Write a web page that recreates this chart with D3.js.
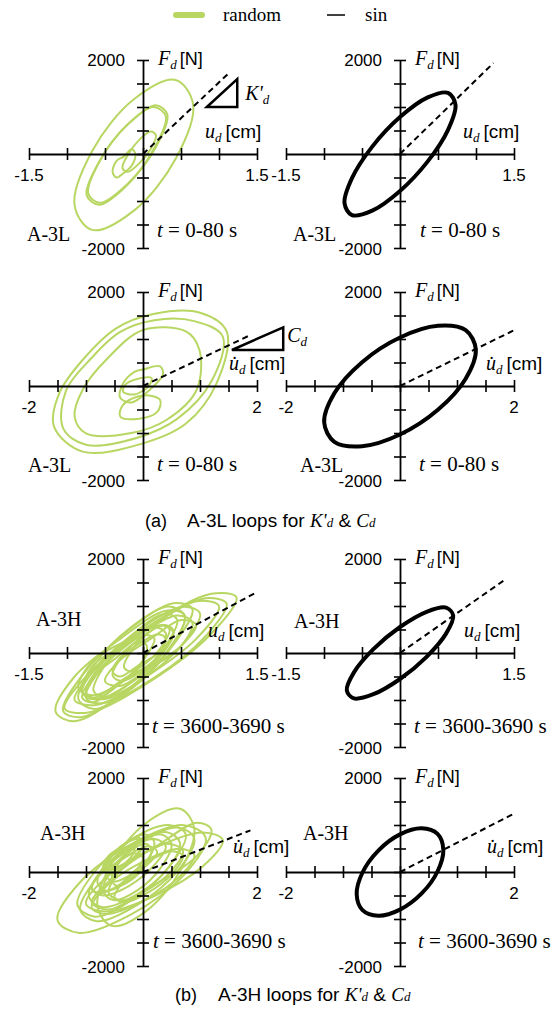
<!DOCTYPE html>
<html lang="en">
<head>
<meta charset="UTF-8">
<title>A-3L / A-3H loops</title>
<script src="https://cdn.jsdelivr.net/npm/d3@7"></script>
<style>
  body { margin: 0; background: #fff; }
</style>
</head>
<body>
<div id="chart"></div>
<script>
// ---- values ----
var legendNames = ["random", "sin"]
var dispTicks = [-1.5, -1, -0.5, 0, 0.5, 1, 1.5]
var velTicks = [-2, -1.5, -1, -0.5, 0, 0.5, 1, 1.5, 2]
var forceTicks = [-2000, -1500, -1000, -500, 0, 500, 1000, 1500, 2000]
var caseNames = ["A-3L", "A-3L", "A-3H", "A-3H"]
var timeWindows = ["0-80", "0-80", "3600-3690", "3600-3690"]

// sinusoidal loops [u, F]
var sinLK = [[0,786],[0.365,1205],[0.632,1300],[0.73,1048],[0.632,515],[0.365,-157],[0,-786],[-0.365,-1205],[-0.632,-1300],[-0.73,-1048],[-0.632,-515],[-0.365,157]]
var sinLC = [[0,1032],[0.665,1281],[1.152,1187],[1.33,774],[1.152,155],[0.665,-507],[0,-1032],[-0.665,-1281],[-1.152,-1187],[-1.33,-774],[-1.152,-155],[-0.665,507]]
var sinHK = [[0,553],[0.35,877],[0.606,965],[0.7,795],[0.606,412],[0.35,-81],[0,-553],[-0.35,-877],[-0.606,-965],[-0.7,-795],[-0.606,-412],[-0.35,81]]
var sinHC = [[0,800],[0.38,930],[0.658,811],[0.76,474],[0.658,11],[0.38,-456],[0,-800],[-0.38,-930],[-0.658,-811],[-0.76,-474],[-0.658,-11],[-0.38,456]]

// random-excitation loops, one array of [u, F] per visible loop
var randLK = [
  [[-0.12,1164],[0.43,1575],[0.66,1052],[0.43,-99],[-0.12,-1204],[-0.67,-1615],[-0.9,-1092],[-0.67,59]],
  [[-0.2,630],[0.17,1039],[0.32,840],[0.17,148],[-0.2,-630],[-0.57,-1039],[-0.72,-840],[-0.57,-148]],
  [[-0.22,600],[0.14,1000],[0.3,800],[0.14,100],[-0.22,-680],[-0.58,-1080],[-0.74,-880],[-0.58,-180]],
  [[-0.05,300],[0.1,480],[0.17,400],[0.1,100],[-0.05,-200],[-0.2,-380],[-0.27,-300],[-0.2,-20]],
  [[-0.25,-50],[-0.15,100],[-0.1,0],[-0.15,-250],[-0.25,-400],[-0.35,-500],[-0.4,-380],[-0.35,-150]]
]
var randLC = [
  [[1.0,1560],[1.47,1156],[1.29,57],[0.76,-794],[0,-1220],[-1.06,-1397],[-1.56,-865],[-1.47,-156],[-1.06,553],[-0.47,1227],[0.18,1532]],
  [[0.2,1400],[0.9,1380],[1.4,1050],[1.2,100],[0.6,-700],[-0.1,-1100],[-1.0,-1250],[-1.4,-900],[-1.35,-100],[-0.9,600],[-0.4,1150]],
  [[0,1191],[0.76,1156],[0.99,766],[0.94,-85],[0.41,-723],[-0.18,-993],[-1.0,-1007],[-1.2,-652],[-1.06,-85],[-0.65,553]],
  [[0,350],[0.3,420],[0.35,250],[0.1,-100],[-0.2,-350],[-0.4,-250],[-0.35,50],[-0.15,300]],
  [[-0.1,150],[0.15,170],[0.1,0],[-0.15,-180],[-0.35,-120],[-0.3,40]],
  [[0,-200],[0.3,-300],[0.25,-550],[-0.1,-700],[-0.4,-650],[-0.35,-400]]
]
var randHK = [
  [[0.1,599],[0.9,1260],[1.23,1184],[0.9,414],[0.1,-599],[-0.7,-1260],[-1.03,-1184],[-0.7,-414]],
  [[-0.2,475],[0.4,1061],[0.65,937],[0.4,177],[-0.2,-775],[-0.8,-1361],[-1.05,-1237],[-0.8,-477]],
  [[0.15,625],[0.82,1164],[1.1,1050],[0.82,351],[0.15,-525],[-0.52,-1064],[-0.8,-950],[-0.52,-251]],
  [[0,550],[0.53,983],[0.75,840],[0.53,205],[0,-550],[-0.53,-983],[-0.75,-840],[-0.53,-205]],
  [[-0.15,560],[0.34,989],[0.55,780],[0.34,56],[-0.15,-760],[-0.64,-1189],[-0.85,-980],[-0.64,-256]],
  [[-0.1,445],[0.29,835],[0.45,706],[0.29,134],[-0.1,-545],[-0.49,-935],[-0.65,-806],[-0.49,-234]],
  [[-0.2,280],[0.22,592],[0.4,440],[0.22,-87],[-0.2,-680],[-0.62,-992],[-0.8,-840],[-0.62,-313]],
  [[0,360],[0.28,594],[0.4,480],[0.28,85],[0,-360],[-0.28,-594],[-0.4,-480],[-0.28,-85]],
  [[-0.3,50],[0.02,378],[0.15,309],[0.02,-117],[-0.3,-650],[-0.62,-978],[-0.75,-909],[-0.62,-483]],
  [[0.05,400],[0.26,595],[0.35,500],[0.26,171],[0.05,-200],[-0.16,-395],[-0.25,-300],[-0.16,29]],
  [[0.05,500],[0.7,1100],[1.0,1000],[0.7,300],[0.05,-500],[-0.6,-1100],[-0.9,-1000],[-0.6,-300]],
  [[-0.1,350],[0.45,800],[0.65,650],[0.45,50],[-0.1,-450],[-0.65,-900],[-0.85,-750],[-0.65,-150]],
  [[-0.25,150],[0.15,550],[0.3,420],[0.15,-150],[-0.25,-550],[-0.65,-950],[-0.8,-820],[-0.65,-250]],
  [[0.1,300],[0.5,700],[0.7,600],[0.5,150],[0.1,-300],[-0.3,-700],[-0.5,-600],[-0.3,-150]],
  [[-0.35,-100],[-0.05,250],[0.05,150],[-0.05,-300],[-0.35,-700],[-0.65,-1050],[-0.75,-950],[-0.65,-500]],
  [[-0.05,200],[0.2,400],[0.3,300],[0.2,0],[-0.05,-250],[-0.3,-500],[-0.4,-400],[-0.3,-100]],
  [[-0.3,300],[0.3,900],[0.55,800],[0.3,0],[-0.3,-900],[-0.9,-1450],[-1.15,-1250],[-0.9,-500]]
]
var randHC = [
  [[-0.2,598],[0.72,996],[1.1,724],[0.72,-61],[-0.2,-898],[-1.12,-1296],[-1.5,-1024],[-1.12,-239]],
  [[0.05,1038],[0.65,1346],[0.9,925],[0.65,20],[0.05,-838],[-0.55,-1146],[-0.8,-725],[-0.55,180]],
  [[0.2,510],[1.05,841],[1.4,680],[1.05,120],[0.2,-510],[-0.65,-841],[-1.0,-680],[-0.65,-120]],
  [[-0.1,600],[0.61,947],[0.9,710],[0.61,28],[-0.1,-700],[-0.81,-1047],[-1.1,-810],[-0.81,-128]],
  [[-0.15,610],[0.42,847],[0.65,618],[0.42,56],[-0.15,-510],[-0.72,-747],[-0.95,-518],[-0.72,44]],
  [[-0.1,590],[0.32,798],[0.5,597],[0.32,105],[-0.1,-390],[-0.52,-598],[-0.7,-397],[-0.52,95]],
  [[-0.3,620],[0.05,798],[0.2,626],[0.05,204],[-0.3,-220],[-0.65,-398],[-0.8,-226],[-0.65,196]],
  [[0,220],[0.64,493],[0.9,360],[0.64,-101],[0,-620],[-0.64,-893],[-0.9,-760],[-0.64,-299]],
  [[-0.2,465],[0.05,599],[0.15,470],[0.05,153],[-0.2,-165],[-0.45,-299],[-0.55,-170],[-0.45,147]],
  [[0.1,230],[0.52,444],[0.7,340],[0.52,-22],[0.1,-430],[-0.32,-644],[-0.5,-540],[-0.32,-178]],
  [[-0.3,610],[-0.09,699],[0,613],[-0.09,402],[-0.3,190],[-0.51,101],[-0.6,187],[-0.51,398]],
  [[-0.4,475],[-0.22,549],[-0.15,478],[-0.22,302],[-0.4,125],[-0.58,51],[-0.65,122],[-0.58,298]],
  [[-0.2,700],[0.45,1000],[0.75,800],[0.45,100],[-0.2,-600],[-0.85,-950],[-1.15,-700],[-0.85,0]],
  [[-0.25,500],[0.2,700],[0.4,550],[0.2,150],[-0.25,-300],[-0.7,-500],[-0.9,-350],[-0.7,50]],
  [[-0.1,300],[0.4,600],[0.7,450],[0.4,-100],[-0.1,-500],[-0.6,-800],[-0.9,-650],[-0.6,-200]],
  [[-0.35,550],[-0.1,750],[0,600],[-0.1,350],[-0.35,100],[-0.6,-50],[-0.7,100],[-0.6,350]],
  [[-0.2,400],[0.1,550],[0.25,430],[0.1,180],[-0.2,-50],[-0.5,-200],[-0.65,-80],[-0.5,170]],
  [[0.3,600],[0.95,1050],[1.2,900],[0.95,350],[0.3,-200],[-0.35,-600],[-0.6,-450],[-0.35,100]],
  [[-0.45,200],[-0.15,400],[0,300],[-0.15,0],[-0.45,-300],[-0.75,-450],[-0.9,-350],[-0.75,-50]]
]

// far end of the dashed K'd / Cd lines, from the origin [u, F]
var slopeEnds = [[1.145,1745],[1.23,1936],[1.885,1085],[2.01,1191],[1.47,1270],[1.37,1547],[1.885,887],[2.03,1260]]
var kTriangle = [[0.84,1000],[1.24,1596],[1.24,1000]]
var cTriangle = [[1.56,766],[2.46,1249],[2.46,766]]

// ---- layout ----
var width = 557, height = 1018
var colX = [[29, 257], [286, 514]]
var rowZero = [154, 386, 653, 872]
var half = 94
var green = "#b8d662"
var SANS = 'Liberation Sans, Arial, Helvetica, sans-serif'
var SERIF = 'Liberation Serif, Times New Roman, Times, serif'

var svg = d3.select('#chart').append('svg')
    .attr('width', width).attr('height', height)

var panels = [
  {row:0, col:0, ticks:dispTicks, loops:randLK, color:green, w:2, vel:false, caseDx:-2, caseDy:87, tDx:14, tDy:83, uDx:62, uDy:-16},
  {row:0, col:1, ticks:dispTicks, loops:[sinLK], color:"#000", w:4, vel:false, caseDx:7, caseDy:87, tDx:20, tDy:83, uDx:63, uDy:-16},
  {row:1, col:0, ticks:velTicks, loops:randLC, color:green, w:2, vel:true, caseDx:-1, caseDy:86, tDx:14, tDy:85, uDx:86, uDy:-16},
  {row:1, col:1, ticks:velTicks, loops:[sinLC], color:"#000", w:4, vel:true, caseDx:14, caseDy:86, tDx:19, tDy:85, uDx:86, uDy:-16},
  {row:2, col:0, ticks:dispTicks, loops:randHK, color:green, w:2, vel:false, caseDx:7, caseDy:-27, tDx:9, tDy:80, uDx:65, uDy:-16},
  {row:2, col:1, ticks:dispTicks, loops:[sinHK], color:"#000", w:4, vel:false, caseDx:8, caseDy:-25, tDx:14, tDy:80, uDx:64, uDy:-16},
  {row:3, col:0, ticks:velTicks, loops:randHC, color:green, w:2, vel:true, caseDx:11, caseDy:-32, tDx:10, tDy:76, uDx:90, uDy:-19},
  {row:3, col:1, ticks:velTicks, loops:[sinHC], color:"#000", w:4, vel:true, caseDx:17, caseDy:-32, tDx:18, tDy:76, uDx:87, uDy:-19}
]

panels.forEach(function(p, i) {
  var yZero = rowZero[p.row]
  var xMax = p.ticks[p.ticks.length - 1]
  var x = d3.scaleLinear().domain([-xMax, xMax]).range(colX[p.col])
  var y = d3.scaleLinear().domain([-2000, 2000]).range([yZero + half, yZero - half])
  var ox = x(0), top = yZero - half, bottom = yZero + half
  var g = svg.append('g')

  // loops
  var loopLine = d3.line().x(d => x(d[0])).y(d => y(d[1])).curve(d3.curveCatmullRomClosed)
  g.append('g').selectAll('path')
      .data(p.loops)
      .join('path')
      .attr('d', loopLine)
      .attr('fill', 'none')
      .attr('stroke', p.color)
      .attr('stroke-width', p.w)
      .attr('stroke-linejoin', 'round')

  // axes crossing at origin
  var xAxis = d3.axisBottom(x).tickValues(p.ticks).tickSize(12).tickSizeOuter(0).tickFormat('')
  g.append('g').attr('transform', 'translate(0,' + yZero + ')').call(xAxis)
    .call(a => {
      a.selectAll('.tick line').attr('y1', -6).attr('y2', 6).attr('stroke-width', 1.6)
      a.select('.domain').attr('stroke-width', 1.8)
    })
  var yAxis = d3.axisLeft(y).tickValues(forceTicks).tickSize(12).tickSizeOuter(0).tickFormat('')
  g.append('g').attr('transform', 'translate(' + ox + ',0)').call(yAxis)
    .call(a => {
      a.selectAll('.tick line').attr('x1', -6).attr('x2', 6).attr('stroke-width', 1.6)
      a.select('.domain').attr('stroke-width', 1.8)
    })

  // dashed secant line
  g.append('path')
    .attr('d', d3.line().x(d => x(d[0])).y(d => y(d[1]))([[0, 0], slopeEnds[i]]))
    .attr('stroke', '#000').attr('stroke-width', 2).attr('stroke-dasharray', '6,4').attr('fill', 'none')

  // tick labels
  function sansText(tx, ty, anchor, s) {
    g.append('text').attr('font-family', SANS).attr('font-size', 17)
      .attr('x', tx).attr('y', ty).attr('text-anchor', anchor).text(s)
  }
  sansText(x(p.ticks[0]), yZero + 27, 'middle', p.ticks[0])
  sansText(x(xMax), yZero + 27, 'middle', xMax)
  sansText(ox - 18, top + 6, 'end', forceTicks[forceTicks.length - 1])
  sansText(ox - 18, bottom + 7, 'end', forceTicks[0])

  // axis titles
  var ft = g.append('text').attr('x', ox + 15).attr('y', top + 5)
  ft.append('tspan').attr('font-family', SERIF).attr('font-style', 'italic').attr('font-size', 20).text('F')
  ft.append('tspan').attr('font-family', SERIF).attr('font-style', 'italic').attr('font-size', 13).attr('dy', 4).text('d')
  ft.append('tspan').attr('font-family', SANS).attr('font-size', 18).attr('dx', 3).attr('dy', -4).text('[N]')

  var ut = g.append('text').attr('x', ox + p.uDx).attr('y', yZero + p.uDy)
  ut.append('tspan').attr('font-family', SERIF).attr('font-style', 'italic').attr('font-size', 20).text(p.vel ? 'u\u0307' : 'u')
  ut.append('tspan').attr('font-family', SERIF).attr('font-style', 'italic').attr('font-size', 13).attr('dy', 4).text('d')
  ut.append('tspan').attr('font-family', SANS).attr('font-size', 19).attr('dx', 4).attr('dy', -4).text('[cm]')

  // case and time window
  g.append('text').attr('font-family', SERIF).attr('font-size', 20)
    .attr('x', colX[p.col][0] + p.caseDx).attr('y', yZero + p.caseDy)
    .text(caseNames[p.row])
  var tt = g.append('text').attr('font-family', SERIF).attr('font-size', 21)
    .attr('x', ox + p.tDx).attr('y', yZero + p.tDy)
  tt.append('tspan').attr('font-style', 'italic').text('t')
  tt.append('tspan').text(' = ' + timeWindows[p.row] + ' s')

  // slope triangles on first two random panels
  if (i === 0 || i === 2) {
    var tri = i === 0 ? kTriangle : cTriangle
    g.append('path')
      .attr('d', d3.line().x(d => x(d[0])).y(d => y(d[1]))(tri) + 'Z')
      .attr('fill', 'none').attr('stroke', '#000').attr('stroke-width', 2.5)
    var lt = g.append('text').attr('font-family', SERIF).attr('font-style', 'italic')
      .attr('x', x(tri[1][0]) + (i === 0 ? 8 : 4)).attr('y', y(tri[1][1]) + (i === 0 ? 21 : 15))
    lt.append('tspan').attr('font-size', 20).text(i === 0 ? "K'" : 'C')
    lt.append('tspan').attr('font-size', 13).attr('dy', 4).text('d')
  }
})

// legend
var legend = svg.append('g')
legend.append('line').attr('x1', 176).attr('x2', 202).attr('y1', 15).attr('y2', 15)
  .attr('stroke', green).attr('stroke-width', 6).attr('stroke-linecap', 'round')
legend.append('text').attr('font-family', SERIF).attr('font-size', 19).attr('x', 223).attr('y', 21).text(legendNames[0])
legend.append('line').attr('x1', 327).attr('x2', 345).attr('y1', 15).attr('y2', 15)
  .attr('stroke', '#000').attr('stroke-width', 1.5)
legend.append('text').attr('font-family', SERIF).attr('font-size', 19).attr('x', 365).attr('y', 21).text(legendNames[1])

// captions
function caption(tag, x0, x1, yb, name) {
  svg.append('text').attr('font-family', SANS).attr('font-size', 18).attr('x', x0).attr('y', yb).text(tag)
  var c = svg.append('text').attr('x', x1).attr('y', yb)
  c.append('tspan').attr('font-family', SANS).attr('font-size', 19).text(name + ' loops for ')
  c.append('tspan').attr('font-family', SERIF).attr('font-style', 'italic').attr('font-size', 19).text("K'")
  c.append('tspan').attr('font-family', SERIF).attr('font-style', 'italic').attr('font-size', 13).text('d')
  c.append('tspan').attr('font-family', SANS).attr('font-size', 19).text(' & ')
  c.append('tspan').attr('font-family', SERIF).attr('font-style', 'italic').attr('font-size', 19).text('C')
  c.append('tspan').attr('font-family', SERIF).attr('font-style', 'italic').attr('font-size', 13).text('d')
}
caption('(a)', 145, 187, 527, caseNames[0])
caption('(b)', 175, 218, 1001, caseNames[2])
</script>
</body>
</html>
